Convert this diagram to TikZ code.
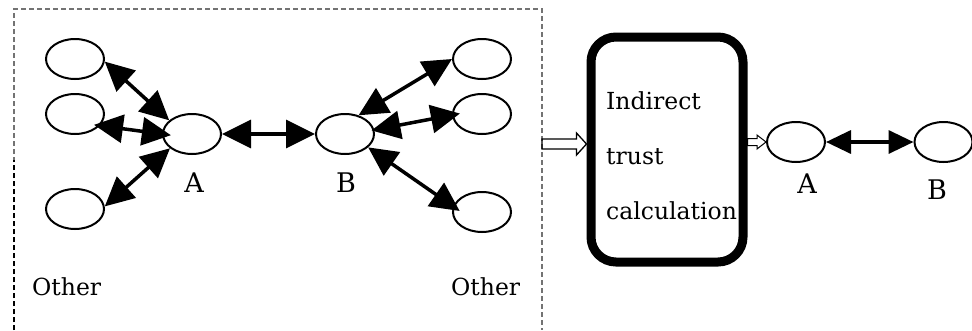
\documentclass[tikz,border=0pt]{standalone}
\usepackage{fontspec}
\setmainfont{DejaVu Serif}
\usetikzlibrary{arrows.meta,shapes.geometric,calc}

% hollow block arrow between two points, drawn level with the tail
\newcommand\fatarrow[6][]{% options, tail, tip, shaft half width, head half width, head length
  \draw[line join=miter,#1] let \p1=(#2), \p2=(#3) in
    (\x1,\y1+#4pt) -- (\x2-#6pt,\y1+#4pt) -- (\x2-#6pt,\y1+#5pt) -- (\x2,\y1)
    -- (\x2-#6pt,\y1-#5pt) -- (\x2-#6pt,\y1-#4pt) -- (\x1,\y1-#4pt) -- cycle;}

\tikzset{
  peer/.style={draw, ellipse, line width=2pt, minimum width=58pt, minimum height=40pt, inner sep=0pt},
  trustlink/.style={line width=3.5pt, {Triangle[length=29pt,width=28pt]}-{Triangle[length=29pt,width=28pt]}},
  peerlabel/.style={font=\fontsize{27}{30}\selectfont, inner sep=0pt, anchor=base},
  otherlabel/.style={font=\fontsize{23.5}{30}\selectfont, inner sep=0pt, anchor=base west},
  frame/.style={draw=black!55, line width=1.2pt, dash pattern=on 5pt off 3pt},
  calcbox/.style={draw, line width=9pt, rounded corners=25pt, minimum width=152pt, minimum height=225pt, inner sep=0pt},
  boxtext/.style={font=\fontsize{23.5}{55}\selectfont, align=left, inner sep=0pt, anchor=north west}
}

\begin{document}
\begin{tikzpicture}[x=1pt,y=-1pt]
\useasboundingbox (0,0) rectangle (972,330);

% frame round the network of peers
\draw[frame] (14,330) -- (14,9) -- (542,9) -- (542,330);
\draw[frame, draw=black, line width=1.5pt] (14,330) -- (14,160);

% peers A and B with their neighbours
\node[peer] (a)   at (192,134) {};
\node[peer] (b)   at (345,134) {};
\node[peer] (la1) at (75,59)   {};
\node[peer] (la2) at (75,114)  {};
\node[peer] (la3) at (75,209)  {};
\node[peer] (nb1) at (482,59)  {};
\node[peer] (nb2) at (482,114) {};
\node[peer] (nb3) at (482,212) {};

\draw[trustlink] (la1.-5) -- (a.149);
\draw[trustlink, shorten <=-6pt, shorten >=-9pt] (la2.-25) -- (a.180);
\draw[trustlink] (la3.5) -- (a.213);
\draw[trustlink] (a) -- (b);
\draw[trustlink] (b.54) -- (nb1.180);
\draw[trustlink, shorten <=-3pt, shorten >=-8pt] (b.8) -- (nb2.182);
\draw[trustlink, shorten >=-8pt] (b.-30) -- (nb3.169);

\node[peerlabel]  (labA)   at (194,192) {A};
\node[peerlabel]  (labB)   at (346,192) {B};
\node[otherlabel] (other1) at (32,295)  {Other};
\node[otherlabel] (other2) at (451,295) {Other};

% calculation step
\node[calcbox] (calc) at (667,149.5) {};
\node[boxtext] (calctext) at (606,91) {Indirect\\trust\\calculation};

% result: A and B linked directly
\node[peer] (a2) at (796,142)   {};
\node[peer] (b2) at (943.5,142) {};
\draw[line width=3.5pt, {Triangle[length=25pt,width=23pt]}-{Triangle[length=25pt,width=23pt]}] (a2) -- (b2);
\node[peerlabel] (labA2) at (807,193) {A};
\node[peerlabel] (labB2) at (937,199) {B};

\coordinate (netout) at (542,144);
\coordinate (calcout) at (calc.east |- a2);
\fatarrow[line width=1.3pt]{netout}{calc.west}{5}{11}{10}
\fatarrow[line width=1pt]{calcout}{a2.west}{3.5}{7}{9}
\end{tikzpicture}
\end{document}
